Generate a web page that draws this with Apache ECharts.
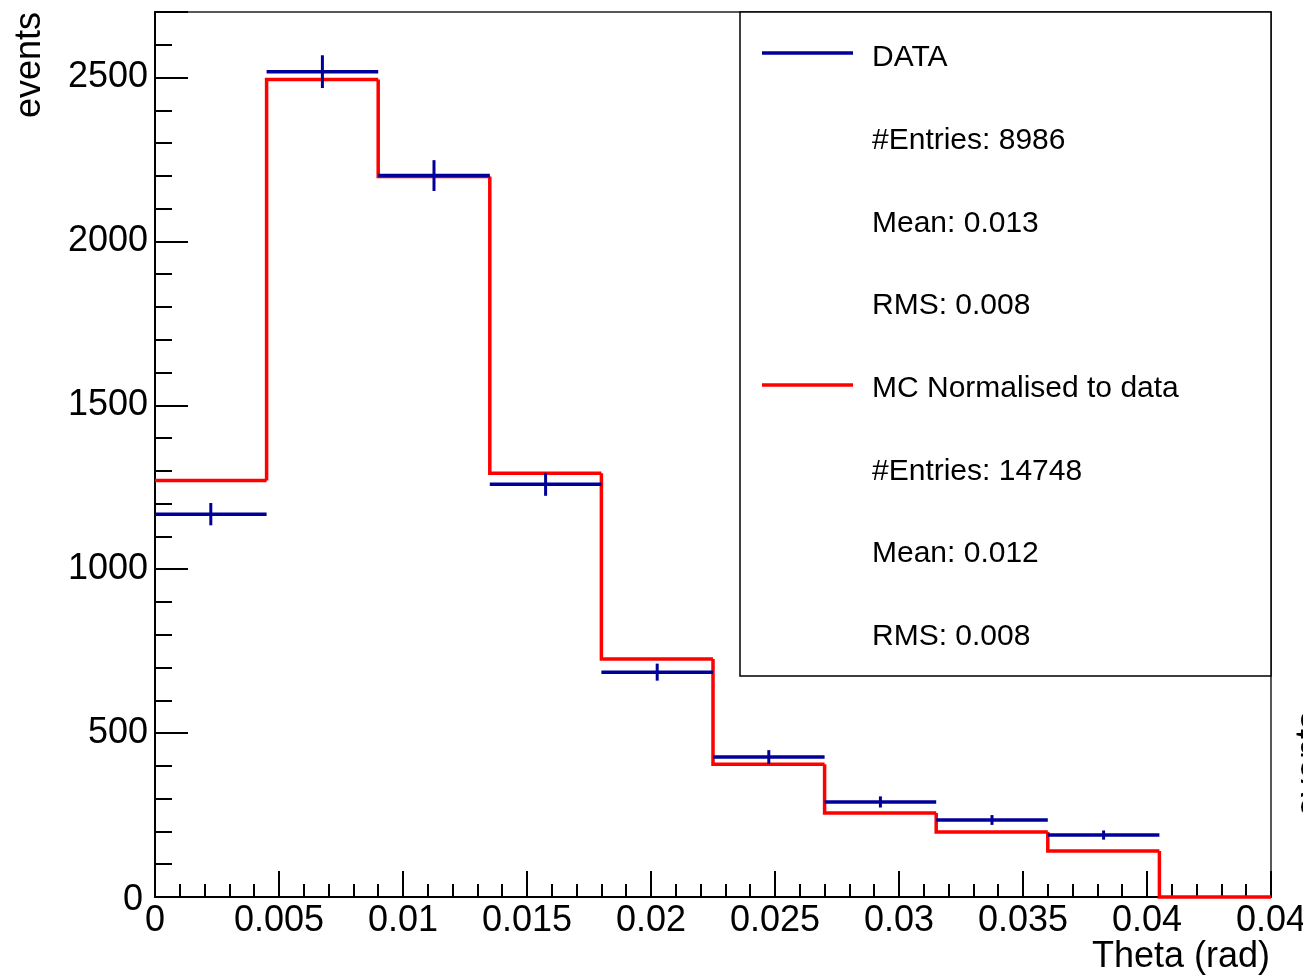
<!DOCTYPE html>
<html>
<head>
<meta charset="utf-8">
<script src="https://cdn.jsdelivr.net/npm/echarts@6/dist/echarts.min.js"></script>
<style>html,body{margin:0;padding:0;background:#fff;}#chart{width:1303px;height:980px;}</style>
</head>
<body>
<div id="chart"></div>
<script>
const binEdges = [0, 0.0045, 0.009, 0.0135, 0.018, 0.0225, 0.027, 0.0315, 0.036, 0.0405, 0.045];
const dataValues = [1168, 2518, 2201, 1259, 686, 427, 290, 235, 189];
const dataErrors = [34, 50, 47, 35, 26, 21, 17, 15, 14];
const mcValues = [1271, 2494, 2198, 1293, 726, 405, 256, 198, 140, 0];
const xTickLabels = ['0', '0.005', '0.01', '0.015', '0.02', '0.025', '0.03', '0.035', '0.04', '0.04'];
const yTickLabels = ['0', '500', '1000', '1500', '2000', '2500'];
const legendLabels = ['DATA', '#Entries: 8986', 'Mean: 0.013', 'RMS: 0.008',
  'MC Normalised to data', '#Entries: 14748', 'Mean: 0.012', 'RMS: 0.008'];
const xTitle = 'Theta (rad)';
const yTitle = 'events';

const BLUE = '#000099', RED = '#ff0000';
const FONT = '"Liberation Sans", Arial, Helvetica, sans-serif';

const chart = echarts.init(document.getElementById('chart'), null, {renderer: 'canvas'});

const labelStyle = {fontSize: 36, color: '#000', fontFamily: FONT};

const legendGraphics = [{
  type: 'rect', z: 100,
  shape: {x: 740, y: 12, width: 531, height: 664},
  style: {fill: '#fff', stroke: '#000', lineWidth: 1.5}
}];
legendLabels.forEach((t, i) => {
  legendGraphics.push({
    type: 'text', z: 101, x: 872, y: 58 + i * 82.7,
    style: {text: t, fontSize: 30, fontFamily: FONT, fill: '#000', textAlign: 'left', textVerticalAlign: 'middle'}
  });
});
legendGraphics.push({type: 'line', z: 101, shape: {x1: 762, y1: 53, x2: 853, y2: 53}, style: {stroke: BLUE, lineWidth: 3.5}});
legendGraphics.push({type: 'line', z: 101, shape: {x1: 762, y1: 385, x2: 853, y2: 385}, style: {stroke: RED, lineWidth: 3.5}});

const option = {
  animation: false,
  backgroundColor: '#fff',
  grid: {left: 155, top: 12, right: 32, bottom: 83, show: true, borderColor: '#222', borderWidth: 1.5,
         backgroundColor: 'transparent', containLabel: false, outerBoundsMode: 'none'},
  xAxis: [{
    type: 'value', min: 0, max: 0.045, interval: 0.005, position: 'bottom',
    axisLine: {show: true, onZero: false, lineStyle: {color: '#000', width: 2}},
    axisTick: {show: true, inside: true, length: 26, lineStyle: {color: '#000', width: 2}},
    splitLine: {show: false},
    axisLabel: Object.assign({margin: 6, hideOverlap: false, formatter: v => {
      const i = Math.round(v / 0.005);
      return Math.abs(v - i * 0.005) < 1e-9 && xTickLabels[i] !== undefined ? xTickLabels[i] : '';
    }}, labelStyle)
  }, {
    type: 'value', min: 0, max: 0.045, interval: 0.001, position: 'bottom',
    axisLine: {show: false},
    axisTick: {show: true, inside: true, length: 13, lineStyle: {color: '#000', width: 2}},
    splitLine: {show: false}, axisLabel: {show: false}
  }],
  yAxis: [{
    type: 'value', min: 0, max: 2700, interval: 500, position: 'left',
    axisLine: {show: true, onZero: false, lineStyle: {color: '#000', width: 2}},
    axisTick: {show: true, inside: true, length: 33, lineStyle: {color: '#000', width: 2}},
    splitLine: {show: false},
    axisLabel: Object.assign({margin: 7, formatter: v => {
      const i = Math.round(v / 500);
      if (!(Math.abs(v - i * 500) < 1e-6 && yTickLabels[i] !== undefined)) return '';
      return i === 0 ? '{z|' + yTickLabels[i] + '}' : yTickLabels[i];
    }, rich: {z: {fontSize: 36, fontFamily: FONT, color: '#000', padding: [6, 5, 0, 0]}}}, labelStyle)
  }, {
    type: 'value', min: 0, max: 2700, interval: 100, position: 'left', offset: 0,
    axisLine: {show: false},
    axisTick: {show: true, inside: true, length: 17, lineStyle: {color: '#000', width: 2}},
    splitLine: {show: false}, axisLabel: {show: false}
  }],
  series: [{
    type: 'custom', name: 'MC', xAxisIndex: 0, yAxisIndex: 0, clip: false, silent: true, z: 3,
    data: mcValues.map((v, i) => [binEdges[i], binEdges[i + 1], v, i > 0 ? mcValues[i - 1] : v]),
    encode: {x: [0, 1], y: [2]},
    renderItem: (params, api) => {
      const lo = api.value(0), hi = api.value(1), v = api.value(2), prev = api.value(3);
      return {
        type: 'polyline',
        shape: {points: [api.coord([lo, prev]), api.coord([lo, v]), api.coord([hi, v])]},
        style: {stroke: RED, lineWidth: 3.5, fill: null, lineJoin: 'miter'}
      };
    }
  }, {
    type: 'custom', name: 'DATA', xAxisIndex: 0, yAxisIndex: 0, clip: false, silent: true, z: 4,
    data: dataValues.map((v, i) => [binEdges[i], binEdges[i + 1], v, dataErrors[i]]),
    encode: {x: [0, 1], y: [2]},
    renderItem: (params, api) => {
      const lo = api.value(0), hi = api.value(1), v = api.value(2), e = api.value(3);
      const a = api.coord([lo, v]), b = api.coord([hi, v]);
      const c = (lo + hi) / 2;
      const t = api.coord([c, v + e]), d = api.coord([c, v - e]);
      return {
        type: 'group',
        children: [
          {type: 'line', shape: {x1: a[0], y1: a[1], x2: b[0], y2: b[1]}, style: {stroke: BLUE, lineWidth: 3.5}},
          {type: 'line', shape: {x1: t[0], y1: t[1], x2: d[0], y2: d[1]}, style: {stroke: BLUE, lineWidth: 3}}
        ]
      };
    }
  }],
  graphic: [
    {type: 'text', x: 30, y: 12, rotation: Math.PI / 2,
     style: {text: yTitle, fontSize: 36, fontFamily: FONT, fill: '#000', textAlign: 'right', textVerticalAlign: 'middle'}},
    {type: 'text', x: 1270, y: 957,
     style: {text: xTitle, fontSize: 36, fontFamily: FONT, fill: '#000', textAlign: 'right', textVerticalAlign: 'middle'}},
    {type: 'text', x: 1311, y: 764, rotation: Math.PI / 2,
     style: {text: yTitle, fontSize: 36, fontFamily: FONT, fill: '#000', textAlign: 'center', textVerticalAlign: 'middle'}}
  ].concat(legendGraphics)
};
chart.setOption(option);
</script>
</body>
</html>
